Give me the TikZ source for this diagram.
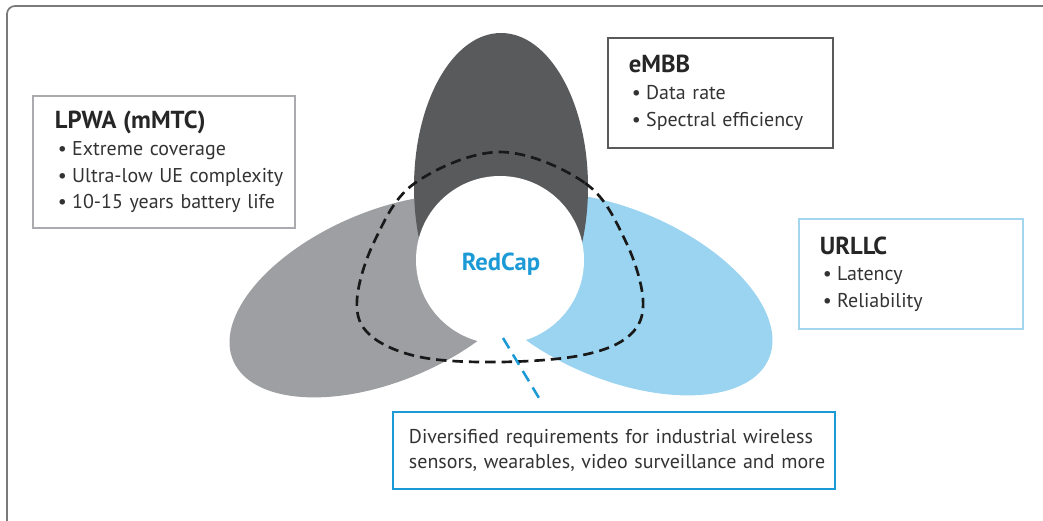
\documentclass[tikz,border=0pt]{standalone}
\usepackage{fontspec}
\setmainfont{PT Sans}
\usetikzlibrary{positioning}
\definecolor{embbgray}{HTML}{595A5C}
\definecolor{lpwagray}{HTML}{9D9FA2}
\definecolor{urllcblue}{HTML}{9AD4F0}
\definecolor{redcapblue}{HTML}{1B9AD6}
\definecolor{framegray}{HTML}{7A7A7A}
\definecolor{txtgray}{HTML}{333333}
\definecolor{lpwaline}{HTML}{A9ABAE}
\definecolor{urllcline}{HTML}{A5D6F0}
\newcommand{\itm}[1]{\mbox{\hspace*{0.07cm}\makebox[0.36cm][l]{\textbullet}#1}}
\newcommand{\boxhead}[1]{\mbox{\fontsize{17.5}{19}\selectfont\bfseries\color{black!85}#1}}

\begin{document}
\begin{tikzpicture}[x=0.025cm, y=-0.025cm,
  every node/.style={font=\fontsize{14.2}{19}\selectfont, text=txtgray},
  infobox/.style={line width=1.2pt, inner ysep=0pt, align=left}]
  \useasboundingbox (0,0) rectangle (1043,520);

  % outer frame, open on the right and at the bottom
  \begin{scope}
    \clip (0,0) rectangle (1043,520);
    \draw[framegray, line width=1.2pt, rounded corners=0.2cm] (7,6) rectangle (1100,560);
  \end{scope}

  % the three use cases
  \fill[lpwagray, rotate around={23:(385,296)}] (385,296) ellipse [x radius=165, y radius=85];
  \fill[urllcblue, rotate around={-23:(617,294)}] (617,294) ellipse [x radius=165, y radius=85];
  \fill[embbgray] (501,187) ellipse [x radius=87, y radius=154];
  \fill[white] (500,260) circle [radius=84];

  % RedCap range
  \draw[black!90, line width=1.9pt, dash pattern=on 2.6mm off 1.5mm]
    plot[smooth cycle, tension=0.6] coordinates {(500,152) (585,183) (625,240) (643,300) (630,335)
      (583,355) (500,362) (420,357) (370,335) (357,300) (375,240) (415,183)};

  \node[font=\fontsize{17.5}{18}\selectfont\bfseries, text=redcapblue] (redcap) at (501,264) {RedCap};

  % boxes
  \node[infobox, draw=lpwaline, inner xsep=0.55cm, text width=5.45cm, minimum height=3.3cm] (lpwa) at (164,162)
    {\boxhead{LPWA (mMTC)}\\ \itm{Extreme coverage}\\ \itm{Ultra-low UE complexity}\\ \itm{10-15 years battery life}};
  \node[infobox, draw=embbgray, inner xsep=0.525cm, text width=4.575cm, minimum height=2.75cm] (embb) at (720.5,93)
    {\boxhead{eMBB}\\ \itm{Data rate}\\ \itm{Spectral efficiency}};
  \node[infobox, draw=urllcline, inner xsep=0.525cm, text width=4.55cm, minimum height=2.75cm] (urllc) at (911,274)
    {\boxhead{URLLC}\\ \itm{Latency}\\ \itm{Reliability}};
  \node[infobox, draw=redcapblue, inner xsep=0.4cm, text width=10.25cm, minimum height=1.925cm,
    font=\fontsize{14.2}{18}\selectfont] (note) at (614,450.5)
    {\mbox{Diversified requirements for industrial wireless}\\ \mbox{sensors, wearables, video surveillance and more}};

  % pointer from RedCap to the note
  \coordinate (pin) at (503,338);
  \coordinate (pout) at (542,403);
  \draw[redcapblue, line width=1.8pt, dash pattern=on 3mm off 1.8mm] (pin) -- (pout);
\end{tikzpicture}
\end{document}
